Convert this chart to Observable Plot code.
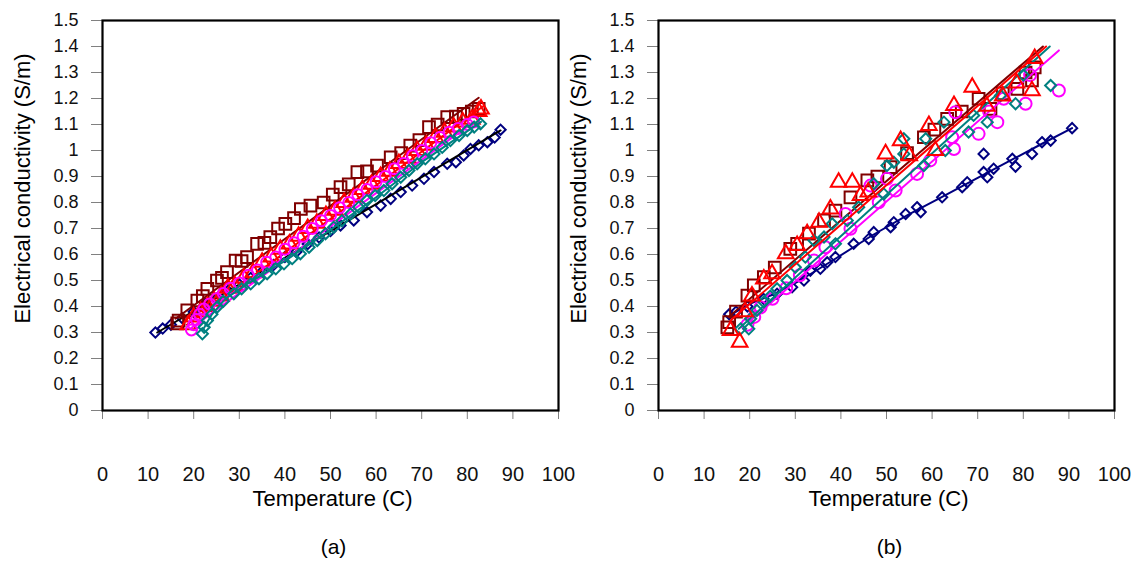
<!DOCTYPE html>
<html><head><meta charset="utf-8">
<script src="https://cdn.jsdelivr.net/npm/d3@7"></script>
<script src="https://cdn.jsdelivr.net/npm/@observablehq/plot@0.6"></script>
<style>
body{margin:0;background:#fff;}
#wrap{position:relative;width:1135px;height:566px;overflow:hidden;font-family:"Liberation Sans",Arial,sans-serif;}
#wrap svg{position:absolute;top:0;}
</style></head><body><div id="wrap"></div>
<script>
// ---------- axis ticks and labels ----------
const xTicks = [0,10,20,30,40,50,60,70,80,90,100];
const xTickLabels = ["0","10","20","30","40","50","60","70","80","90","100"];
const yTicks = [0,0.1,0.2,0.3,0.4,0.5,0.6,0.7,0.8,0.9,1,1.1,1.2,1.3,1.4,1.5];
const yTickLabels = ["0","0.1","0.2","0.3","0.4","0.5","0.6","0.7","0.8","0.9","1","1.1","1.2","1.3","1.4","1.5"];
const xTitle = "Temperature (C)";
const yTitle = "Electrical conductivity (S/m)";
const captions = ["(a)", "(b)"];

// ---------- panel (a) ----------
const aNavyT = [11.6,13.2,15.0,17.5,20.0,22.5,25.0,27.5,30.0,32.5,35.0,37.5,40.0,42.5,45.0,47.5,50.0,52.2,55.1,58.0,61.0,63.2,65.4,67.9,70.5,72.7,75.6,77.5,79.2,80.7,82.5,84.4,86.0,87.3];
const aNavyC = [0.30,0.315,0.33,0.355,0.38,0.41,0.43,0.46,0.485,0.51,0.535,0.56,0.59,0.61,0.64,0.665,0.69,0.712,0.731,0.763,0.788,0.814,0.84,0.865,0.891,0.917,0.949,0.955,0.981,1.006,1.02,1.032,1.05,1.08];
const aNavyFitT = [12,50,87.3];
const aNavyFitC = [0.30,0.69,1.077];

const aMarT = [16.4,16.7,18.6,20.8,22.0,23.0,25.1,26.2,27.3,29.2,30.5,31.7,33.9,35.5,36.8,38.5,40.1,42.0,43.5,45.6,48.5,50.5,52.2,54.0,55.9,58.0,60.2,63.2,65.5,67.5,69.5,71.6,73.5,75.6,77.5,79.2,81.0,82.5];
const aMarC = [0.335,0.346,0.385,0.423,0.44,0.468,0.50,0.51,0.532,0.577,0.575,0.59,0.641,0.645,0.667,0.70,0.718,0.74,0.775,0.788,0.80,0.83,0.859,0.87,0.917,0.92,0.942,0.974,0.99,1.019,1.04,1.09,1.10,1.128,1.13,1.141,1.15,1.16];
const aMarFitT = [16,82.5];
const aMarFitC = [0.353,1.203];

const aRedT = [18.8,20,21.5,23,24.5,26,27.5,29,31,33,35,37,39,41,43,45,47,49,51,53,55,57,59,61,63,65,67,69,71,73,75,77,79,81,82.5,83];
const aRedC = [0.33,0.36,0.38,0.40,0.42,0.44,0.47,0.48,0.51,0.53,0.57,0.59,0.62,0.64,0.67,0.70,0.72,0.75,0.77,0.80,0.82,0.85,0.87,0.90,0.92,0.95,0.97,1.00,1.02,1.05,1.07,1.09,1.11,1.12,1.15,1.16];
const aRedFitT = [18.5,83.5];
const aRedFitC = [0.33,1.17];

const aMagT = [19.5,20.0,20.6,21.3,22.2,23.5,25,26.5,28,30,32,34,36,38,40,42,44,46,48,50,52,54,56,58,60,62,64,66,68,70,72,74,76,78,80,81.4];
const aMagC = [0.31,0.33,0.35,0.37,0.39,0.41,0.43,0.45,0.47,0.49,0.52,0.54,0.57,0.59,0.62,0.645,0.67,0.70,0.73,0.75,0.78,0.80,0.83,0.85,0.88,0.90,0.93,0.95,0.98,1.00,1.03,1.05,1.07,1.085,1.10,1.11];
const aMagFitT = [19.3,81.4];
const aMagFitC = [0.315,1.11];

const aTealT = [21.9,22.3,23.0,24.0,25.1,26.5,28.8,30.5,32.5,34.3,36.1,38.0,39.8,41.6,43.4,45.3,47.1,48.9,50.7,52.5,54.4,56.2,58.0,59.8,61.7,63.5,65.4,67.2,69.0,70.8,72.7,74.5,76.3,78.2,80.0,81.5,82.9];
const aTealC = [0.295,0.32,0.346,0.37,0.397,0.42,0.449,0.468,0.487,0.507,0.526,0.545,0.564,0.584,0.603,0.628,0.654,0.68,0.705,0.73,0.756,0.782,0.808,0.827,0.846,0.872,0.897,0.923,0.949,0.968,0.987,1.012,1.038,1.058,1.077,1.09,1.103];
const aTealFitT = [22,24,27,32,40,50,60,70,83];
const aTealFitC = [0.31,0.37,0.43,0.49,0.575,0.695,0.82,0.955,1.11];

// ---------- panel (b) ----------
const bNavyT = [15.5,17.0,19.5,23.0,26.0,29.3,31.9,33.3,35.5,37.0,38.8,42.8,46.1,47.2,50.9,51.6,54.2,56.7,57.5,62.2,66.6,67.7,71.3,71.3,72.1,73.5,77.6,78.3,81.9,84.1,86.0,90.7];
const bNavyC = [0.37,0.38,0.40,0.43,0.449,0.474,0.50,0.538,0.545,0.57,0.59,0.641,0.66,0.686,0.705,0.724,0.756,0.782,0.763,0.82,0.859,0.878,0.987,0.917,0.897,0.93,0.968,0.938,0.987,1.032,1.038,1.086];
const bNavyFitT = [16,20,25,31,38,47,55,62,70,77,84,90.7];
const bNavyFitC = [0.37,0.41,0.445,0.50,0.575,0.675,0.755,0.82,0.895,0.96,1.025,1.086];

const bMarT = [15.1,15.5,17.0,19.5,20.9,23.1,25.5,28.9,30.4,33.0,36.3,38.8,42.1,45.8,48.0,50.9,54.5,58.2,60.5,63.3,66.5,70.2,72.8,75.5,78.7,80.5,81.9,82.5];
const bMarC = [0.32,0.34,0.38,0.442,0.481,0.513,0.55,0.622,0.641,0.68,0.731,0.769,0.82,0.885,0.90,0.936,0.99,1.051,1.08,1.122,1.15,1.199,1.16,1.22,1.237,1.30,1.27,1.32];
const bMarFitT = [15.4,84.3];
const bMarFitC = [0.36,1.40];

const bRedT = [15.8,17.8,19.0,20.5,23.1,24.9,27.9,30.4,32.6,35.2,37.7,39.5,42.5,44.3,46.0,49.8,53.1,55.0,59.3,60.7,64.8,68.8,72.0,75.5,78.5,81.9,82.5];
const bRedC = [0.308,0.263,0.38,0.44,0.506,0.526,0.603,0.635,0.68,0.724,0.775,0.878,0.878,0.827,0.84,0.987,1.038,0.98,1.096,1.0,1.173,1.243,1.17,1.21,1.26,1.23,1.354];
const bRedFitT = [15.8,85.0];
const bRedFitC = [0.346,1.40];

const bTealT = [18.0,19.8,20.2,21.6,23.1,24.5,26.0,28.2,30.0,32.2,34.1,36.3,38.1,38.8,41.4,43.9,47.2,49.4,50.1,51.6,53.8,53.8,58.2,58.6,62.6,62.9,68.0,69.1,72.1,75.0,78.3,80.0,86.0];
const bTealC = [0.314,0.314,0.353,0.385,0.417,0.44,0.468,0.50,0.551,0.59,0.654,0.667,0.718,0.641,0.731,0.782,0.872,0.833,0.942,0.955,0.987,1.045,0.942,1.045,1.109,1.0,1.071,1.135,1.109,1.212,1.18,1.29,1.25];
const bTealFitT = [17.6,85.8];
const bTealFitC = [0.314,1.40];

const bMagT = [19.5,21.0,22.4,25.0,28.0,31.0,34.1,36.6,41.0,42.1,46.5,48.3,50.1,52.0,56.7,59.6,64.4,64.8,65.1,70.2,72.5,74.3,75.7,80.5,81.5,87.8];
const bMagC = [0.33,0.36,0.397,0.43,0.47,0.52,0.577,0.628,0.756,0.699,0.865,0.801,0.891,0.846,0.91,0.962,1.051,1.006,1.147,1.064,1.15,1.109,1.199,1.18,1.29,1.231];
const bMagFitT = [20.2,87.8];
const bMagFitC = [0.346,1.385];

// ---------- styling ----------
const NAVY = "#000080", MAROON = "#800000", RED = "#ff0000", MAGENTA = "#ff00ff", TEAL = "#008080";
const FONT = "'Liberation Sans', Arial, Helvetica, sans-serif";
const xLab = new Map(xTicks.map((t, i) => [t, xTickLabels[i]]));
const yLab = new Map(yTicks.map((t, i) => [t, yTickLabels[i]]));

function dots(xs, ys, symbol, r, color) {
  return Plot.dot(xs, {x: xs, y: ys, symbol, r, stroke: color, fill: "none", strokeWidth: 2});
}
function fit(xs, ys, color, w = 2) {
  return Plot.line(xs, {x: xs, y: ys, stroke: color, strokeWidth: w});
}

function panel(series, caption, width, marginLeft, marginRight) {
  const marks = [];
  for (const s of series) {
    marks.push(dots(s.t, s.c, s.symbol, s.r, s.color));
    marks.push(fit(s.ft, s.fc, s.lineColor));
  }
  return Plot.plot({
    width, height: 566,
    marginTop: 20, marginBottom: 156, marginLeft, marginRight,
    x: {domain: [0, 100]},
    y: {domain: [0, 1.5]},
    style: {fontFamily: FONT, color: "#000", background: "transparent", overflow: "visible"},
    marks: [
      ...marks,
      Plot.axisY(yTicks, {tickSize: 11, tickPadding: 13, stroke: "#808080", fill: "#111", fontSize: 18, tickFormat: d => yLab.get(d), label: null}),
      Plot.axisX(xTicks, {tickSize: 9, tickPadding: 47, stroke: "#808080", fill: "#111", fontSize: 20, tickFormat: d => xLab.get(d), label: null}),
      Plot.frame({stroke: "#000", strokeWidth: 2.2}),
      Plot.text([yTitle], {frameAnchor: "left", textAnchor: "middle", lineAnchor: "middle", rotate: -90, dx: -80, dy: -27, fontSize: 22, fill: "#000"}),
      Plot.text([xTitle], {frameAnchor: "bottom", textAnchor: "middle", dx: 2, dy: 95, fontSize: 22, fill: "#000"}),
      Plot.text([caption], {frameAnchor: "bottom", textAnchor: "middle", dx: 3, dy: 143, fontSize: 21, fill: "#000"})
    ]
  });
}

const seriesA = [
  {t: aNavyT, c: aNavyC, ft: aNavyFitT, fc: aNavyFitC, symbol: "diamond2", r: 4.6, color: NAVY, lineColor: "#000"},
  {t: aMarT, c: aMarC, ft: aMarFitT, fc: aMarFitC, symbol: "square", r: 6.6, color: MAROON, lineColor: MAROON},
  {t: aRedT, c: aRedC, ft: aRedFitT, fc: aRedFitC, symbol: "triangle", r: 5.8, color: RED, lineColor: RED},
  {t: aMagT, c: aMagC, ft: aMagFitT, fc: aMagFitC, symbol: "circle", r: 5.5, color: MAGENTA, lineColor: MAGENTA},
  {t: aTealT, c: aTealC, ft: aTealFitT, fc: aTealFitC, symbol: "diamond2", r: 5, color: TEAL, lineColor: TEAL}
];
const seriesB = [
  {t: bNavyT, c: bNavyC, ft: bNavyFitT, fc: bNavyFitC, symbol: "diamond2", r: 4.6, color: NAVY, lineColor: NAVY},
  {t: bMarT, c: bMarC, ft: bMarFitT, fc: bMarFitC, symbol: "square", r: 6.6, color: MAROON, lineColor: MAROON},
  {t: bMagT, c: bMagC, ft: bMagFitT, fc: bMagFitC, symbol: "circle", r: 6, color: MAGENTA, lineColor: MAGENTA},
  {t: bTealT, c: bTealC, ft: bTealFitT, fc: bTealFitC, symbol: "diamond2", r: 5, color: TEAL, lineColor: TEAL},
  {t: bRedT, c: bRedC, ft: bRedFitT, fc: bRedFitC, symbol: "triangle", r: 5.8, color: RED, lineColor: RED}
];

const wrap = document.getElementById("wrap");
const pa = panel(seriesA, captions[0], 567, 102, 9);
pa.style.left = "0px";
const pb = panel(seriesB, captions[1], 568, 91, 21);
pb.style.left = "567px";
wrap.appendChild(pa);
wrap.appendChild(pb);
</script>
</body></html>
